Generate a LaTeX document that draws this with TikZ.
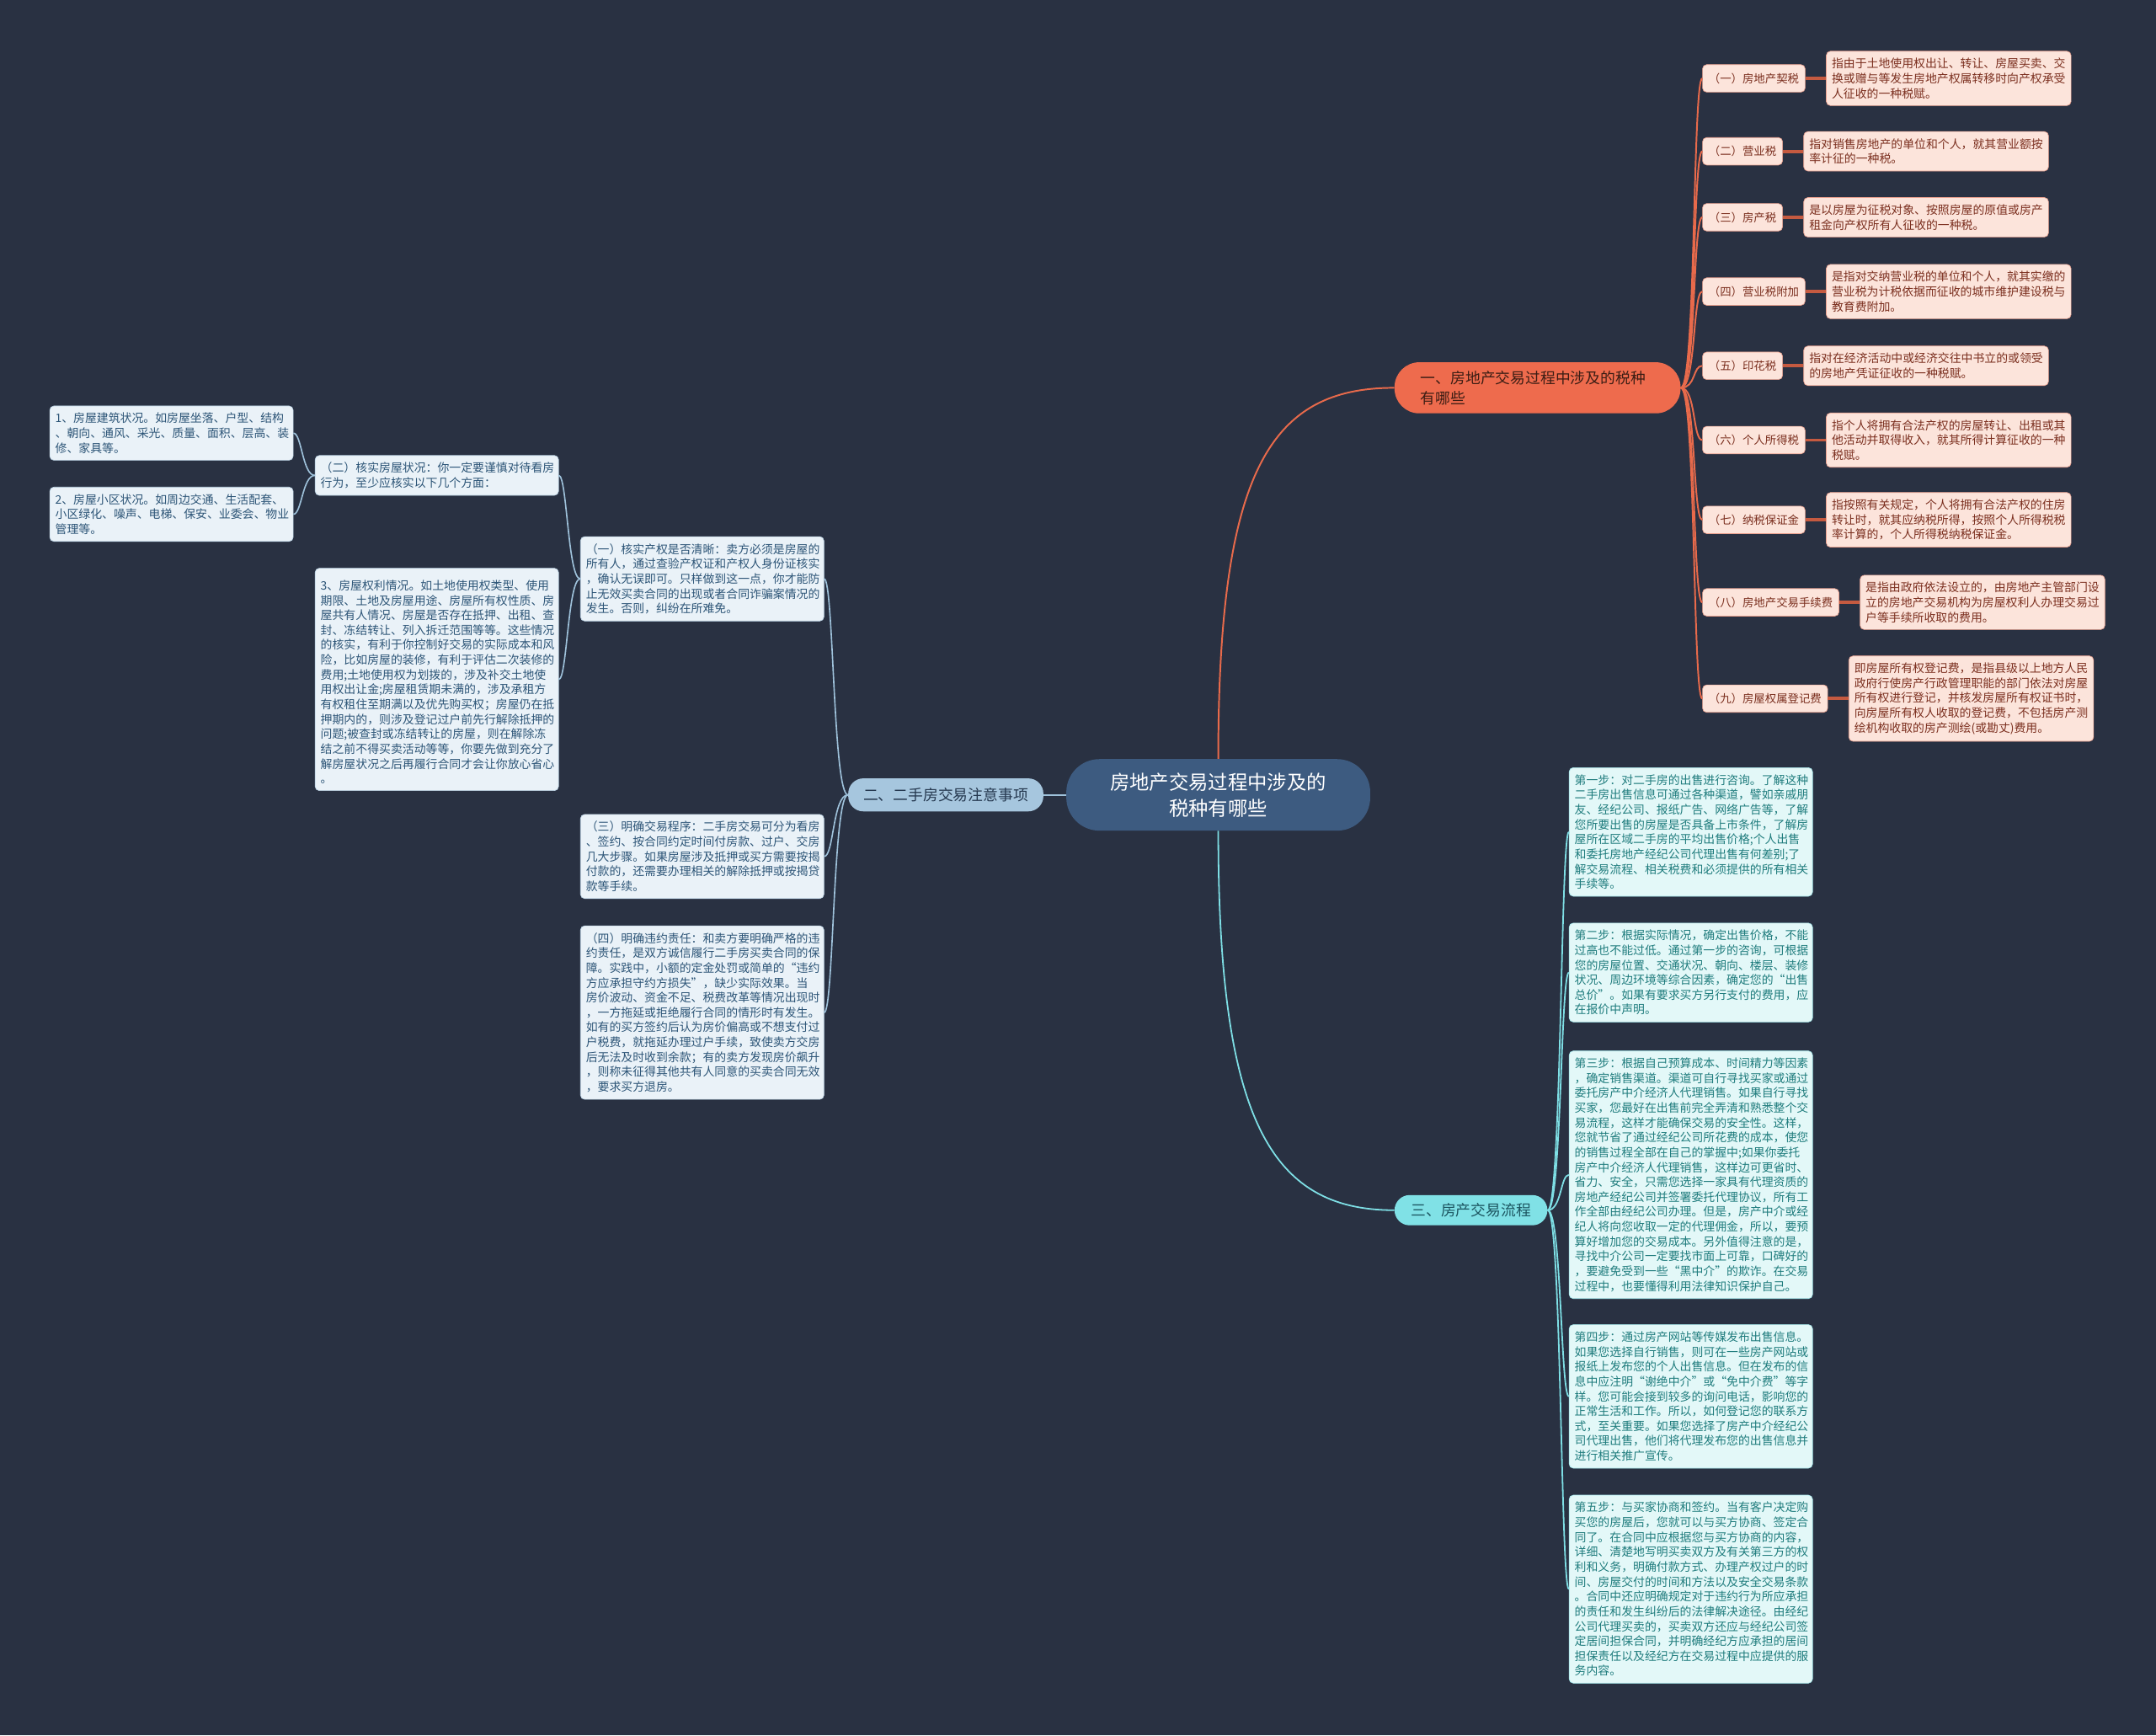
\documentclass[tikz,border=0pt]{standalone}
\usepackage{fontspec}
\setmainfont{Noto Sans CJK SC}
\usetikzlibrary{positioning}

\definecolor{bgnavy}{HTML}{293142}
\definecolor{rootfill}{HTML}{3D5B80}
\definecolor{orgfill}{HTML}{EE6B4D}
\definecolor{orgtext}{HTML}{3B1D14}
\definecolor{orgline}{HTML}{E86A4B}
\definecolor{taxfill}{HTML}{FCE4DB}
\definecolor{taxtext}{HTML}{7B2F1F}
\definecolor{taxedge}{HTML}{E9A08E}
\definecolor{bluefill}{HTML}{A6C6DE}
\definecolor{bluetext}{HTML}{25384F}
\definecolor{blueline}{HTML}{9FC2DB}
\definecolor{tipfill}{HTML}{EAF2F8}
\definecolor{tiptext}{HTML}{2D5577}
\definecolor{cyanfill}{HTML}{80E1E6}
\definecolor{cyantext}{HTML}{1C5560}
\definecolor{cyanline}{HTML}{7EDFE5}
\definecolor{stepfill}{HTML}{E3F8F8}
\definecolor{steptext}{HTML}{1F7C7D}

\tikzset{
  small/.style={font=\fontsize{8.5}{10.8}\selectfont},
  root/.style={fill=rootfill, text=white, rounded corners=24pt, minimum width=221pt,
    minimum height=52pt, align=center, font=\fontsize{14.3}{19}\selectfont},
  branch/.style={rounded corners=11pt, inner ysep=4pt, font=\fontsize{10.9}{15}\selectfont},
  taxlabel/.style={draw=taxedge, line width=0.4pt, fill=taxfill, text=taxtext, rounded corners=3pt,
    inner xsep=4.5pt, inner ysep=0pt, minimum height=20pt, anchor=west, font=\fontsize{8.2}{10}\selectfont},
  taxdef/.style={small, draw=taxedge, line width=0.4pt, fill=taxfill, text=taxtext, rounded corners=3pt,
    text width=170pt, align=left, inner xsep=4pt, inner ysep=5pt},
  tipbox/.style={small, draw=blueline!70!white, line width=0.4pt, fill=tipfill, text=tiptext, rounded corners=3pt,
    text width=169pt, align=left, inner xsep=4pt, inner ysep=5pt, anchor=north west},
  stagebox/.style={small, draw=cyanline!70!white, line width=0.4pt, fill=stepfill, text=steptext, rounded corners=3pt,
    text width=169pt, align=left, inner xsep=4pt, inner ysep=5pt, anchor=north west},
  orgcurve/.style={draw=orgline, line width=1.2pt},
  taxbar/.style={draw=orgline!85!black, line width=2.4pt},
  bluecurve/.style={draw=blueline, line width=1pt},
  cyancurve/.style={draw=cyanline, line width=1.1pt}
}

\begin{document}
\begin{tikzpicture}[x=1pt, y=-1pt]
  \useasboundingbox (0,0) rectangle (1568,1262);
  \fill[bgnavy] (0,0) rectangle (1568,1262);

  % centre and main branches
  \node[root] (root) at (886,578) {房地产交易过程中涉及的\\税种有哪些};
  \node[branch, fill=orgfill, text=orgtext, text width=170pt, align=left, inner xsep=19pt, inner ysep=6pt,
    rounded corners=18pt, anchor=west] (br1) at (1014,282) {一、房地产交易过程中涉及的税种\\有哪些};
  \node[branch, fill=bluefill, text=bluetext, inner xsep=11pt, minimum height=24pt, anchor=east] (br2) at (759,578) {二、二手房交易注意事项};
  \node[branch, fill=cyanfill, text=cyantext, inner xsep=12pt, minimum height=22pt, anchor=west] (br3) at (1014,880) {三、房产交易流程};

  \draw[orgcurve] (root.north) .. controls +(0,-210) and +(-90,0) .. (br1.west);
  \draw[cyancurve] (root.south) .. controls +(0,210) and +(-90,0) .. (br3.west);
  \draw[bluecurve] (root.west) -- (br2.east);

  % taxes
  \node[taxlabel] (tax1) at (1238,57) {（一）房地产契税};
  \node[taxlabel] (tax2) at (1238,110) {（二）营业税};
  \node[taxlabel] (tax3) at (1238,158) {（三）房产税};
  \node[taxlabel] (tax4) at (1238,212) {（四）营业税附加};
  \node[taxlabel] (tax5) at (1238,266) {（五）印花税};
  \node[taxlabel] (tax6) at (1238,320) {（六）个人所得税};
  \node[taxlabel] (tax7) at (1238,378) {（七）纳税保证金};
  \node[taxlabel] (tax8) at (1238,438) {（八）房地产交易手续费};
  \node[taxlabel] (tax9) at (1238,508) {（九）房屋权属登记费};

  \node[taxdef, right=15pt of tax1] (def1) {指由于土地使用权出让、转让、房屋买卖、交\\换或赠与等发生房地产权属转移时向产权承受\\人征收的一种税赋。};
  \node[taxdef, right=15pt of tax2] (def2) {指对销售房地产的单位和个人，就其营业额按\\率计征的一种税。};
  \node[taxdef, right=15pt of tax3] (def3) {是以房屋为征税对象、按照房屋的原值或房产\\租金向产权所有人征收的一种税。};
  \node[taxdef, right=15pt of tax4] (def4) {是指对交纳营业税的单位和个人，就其实缴的\\营业税为计税依据而征收的城市维护建设税与\\教育费附加。};
  \node[taxdef, right=15pt of tax5] (def5) {指对在经济活动中或经济交往中书立的或领受\\的房地产凭证征收的一种税赋。};
  \node[taxdef, right=15pt of tax6] (def6) {指个人将拥有合法产权的房屋转让、出租或其\\他活动并取得收入，就其所得计算征收的一种\\税赋。};
  \node[taxdef, right=15pt of tax7] (def7) {指按照有关规定，个人将拥有合法产权的住房\\转让时，就其应纳税所得，按照个人所得税税\\率计算的，个人所得税纳税保证金。};
  \node[taxdef, right=15pt of tax8] (def8) {是指由政府依法设立的，由房地产主管部门设\\立的房地产交易机构为房屋权利人办理交易过\\户等手续所收取的费用。};
  \node[taxdef, right=15pt of tax9] (def9) {即房屋所有权登记费，是指县级以上地方人民\\政府行使房产行政管理职能的部门依法对房屋\\所有权进行登记，并核发房屋所有权证书时，\\向房屋所有权人收取的登记费，不包括房产测\\绘机构收取的房产测绘(或勘丈)费用。};

  \foreach \i in {1,...,9} {
    \draw[orgcurve] (br1.east) .. controls +(11,0) and +(-7,0) .. (tax\i.west);
    \draw[taxbar] (tax\i.east) -- (def\i.west);
  }

  % second-hand housing notes
  \node[tipbox] (chk1) at (422,390) {（一）核实产权是否清晰：卖方必须是房屋的\\所有人，通过查验产权证和产权人身份证核实\\，确认无误即可。只样做到这一点，你才能防\\止无效买卖合同的出现或者合同诈骗案情况的\\发生。否则，纠纷在所难免。};
  \node[tipbox] (chk3) at (422,592) {（三）明确交易程序：二手房交易可分为看房\\、签约、按合同约定时间付房款、过户、交房\\几大步骤。如果房屋涉及抵押或买方需要按揭\\付款的，还需要办理相关的解除抵押或按揭贷\\款等手续。};
  \node[tipbox] (chk4) at (422,673) {（四）明确违约责任：和卖方要明确严格的违\\约责任，是双方诚信履行二手房买卖合同的保\\障。实践中，小额的定金处罚或简单的“违约\\方应承担守约方损失”，缺少实际效果。当\\房价波动、资金不足、税费改革等情况出现时\\，一方拖延或拒绝履行合同的情形时有发生。\\如有的买方签约后认为房价偏高或不想支付过\\户税费，就拖延办理过户手续，致使卖方交房\\后无法及时收到余款；有的卖方发现房价飙升\\，则称未征得其他共有人同意的买卖合同无效\\，要求买方退房。};
  \node[tipbox] (chk2) at (229,331) {（二）核实房屋状况：你一定要谨慎对待看房\\行为，至少应核实以下几个方面：};
  \node[tipbox] (sub3) at (229,413) {\ 3、房屋权利情况。如土地使用权类型、使用\\期限、土地及房屋用途、房屋所有权性质、房\\屋共有人情况、房屋是否存在抵押、出租、查\\封、冻结转让、列入拆迁范围等等。这些情况\\的核实，有利于你控制好交易的实际成本和风\\险，比如房屋的装修，有利于评估二次装修的\\费用;土地使用权为划拨的，涉及补交土地使\\用权出让金;房屋租赁期未满的，涉及承租方\\有权租住至期满以及优先购买权；房屋仍在抵\\押期内的，则涉及登记过户前先行解除抵押的\\问题;被查封或冻结转让的房屋，则在解除冻\\结之前不得买卖活动等等，你要先做到充分了\\解房屋状况之后再履行合同才会让你放心省心\\。};
  \node[tipbox] (sub1) at (36,295) {1、房屋建筑状况。如房屋坐落、户型、结构\\、朝向、通风、采光、质量、面积、层高、装\\修、家具等。};
  \node[tipbox] (sub2) at (36,354) {2、房屋小区状况。如周边交通、生活配套、\\小区绿化、噪声、电梯、保安、业委会、物业\\管理等。};

  \foreach \k in {chk1,chk3,chk4}
    \draw[bluecurve] (br2.west) .. controls +(-11,0) and +(7,0) .. (\k.east);
  \foreach \k in {chk2,sub3}
    \draw[bluecurve] (chk1.west) .. controls +(-9,0) and +(6,0) .. (\k.east);
  \foreach \k in {sub1,sub2}
    \draw[bluecurve] (chk2.west) .. controls +(-9,0) and +(6,0) .. (\k.east);

  % selling steps
  \node[stagebox] (stg1) at (1141,558) {第一步：对二手房的出售进行咨询。了解这种\\二手房出售信息可通过各种渠道，譬如亲戚朋\\友、经纪公司、报纸广告、网络广告等，了解\\您所要出售的房屋是否具备上市条件，了解房\\屋所在区域二手房的平均出售价格;个人出售\\和委托房地产经纪公司代理出售有何差别;了\\解交易流程、相关税费和必须提供的所有相关\\手续等。};
  \node[stagebox] (stg2) at (1141,671) {第二步：根据实际情况，确定出售价格，不能\\过高也不能过低。通过第一步的咨询，可根据\\您的房屋位置、交通状况、朝向、楼层、装修\\状况、周边环境等综合因素，确定您的“出售\\总价”。如果有要求买方另行支付的费用，应\\在报价中声明。};
  \node[stagebox] (stg3) at (1141,764) {第三步：根据自己预算成本、时间精力等因素\\，确定销售渠道。渠道可自行寻找买家或通过\\委托房产中介经济人代理销售。如果自行寻找\\买家，您最好在出售前完全弄清和熟悉整个交\\易流程，这样才能确保交易的安全性。这样，\\您就节省了通过经纪公司所花费的成本，使您\\的销售过程全部在自己的掌握中;如果你委托\\房产中介经济人代理销售，这样边可更省时、\\省力、安全，只需您选择一家具有代理资质的\\房地产经纪公司并签署委托代理协议，所有工\\作全部由经纪公司办理。但是，房产中介或经\\纪人将向您收取一定的代理佣金，所以，要预\\算好增加您的交易成本。另外值得注意的是，\\寻找中介公司一定要找市面上可靠，口碑好的\\，要避免受到一些“黑中介”的欺诈。在交易\\过程中，也要懂得利用法律知识保护自己。};
  \node[stagebox] (stg4) at (1141,963) {第四步：通过房产网站等传媒发布出售信息。\\如果您选择自行销售，则可在一些房产网站或\\报纸上发布您的个人出售信息。但在发布的信\\息中应注明“谢绝中介”或“免中介费”等字\\样。您可能会接到较多的询问电话，影响您的\\正常生活和工作。所以，如何登记您的联系方\\式，至关重要。如果您选择了房产中介经纪公\\司代理出售，他们将代理发布您的出售信息并\\进行相关推广宣传。};
  \node[stagebox] (stg5) at (1141,1087) {第五步：与买家协商和签约。当有客户决定购\\买您的房屋后，您就可以与买方协商、签定合\\同了。在合同中应根据您与买方协商的内容，\\详细、清楚地写明买卖双方及有关第三方的权\\利和义务，明确付款方式、办理产权过户的时\\间、房屋交付的时间和方法以及安全交易条款\\。合同中还应明确规定对于违约行为所应承担\\的责任和发生纠纷后的法律解决途径。由经纪\\公司代理买卖的，买卖双方还应与经纪公司签\\定居间担保合同，并明确经纪方应承担的居间\\担保责任以及经纪方在交易过程中应提供的服\\务内容。};

  \foreach \i in {1,...,5}
    \draw[cyancurve] (br3.east) .. controls +(10,0) and +(-6,0) .. (stg\i.west);
\end{tikzpicture}
\end{document}
